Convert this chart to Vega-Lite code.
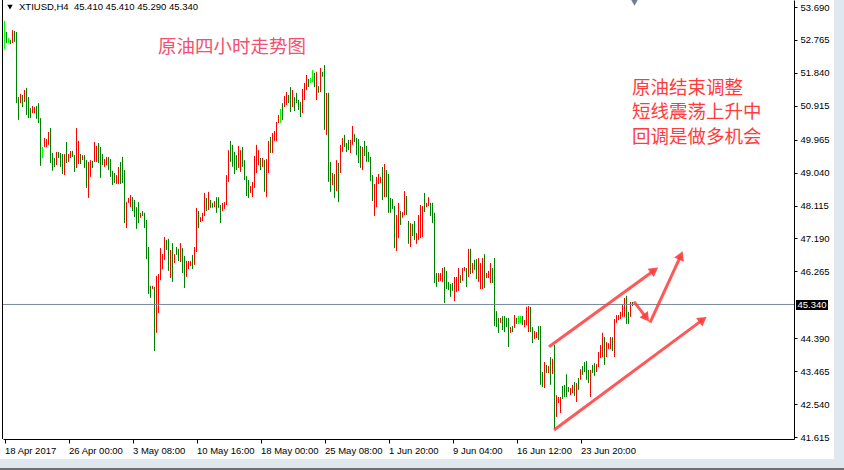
{
"$schema":"https://vega.github.io/schema/vega-lite/v6.json",
"width":791,"height":439,
"autosize":{"type":"none"},
"padding":{"left":3,"top":0,"right":50,"bottom":31},
"background":"white",
"config":{"view":{"stroke":null},"axis":{"grid":false}},
"datasets":{
"one":[{}],
"bars":[
{"i":0,"h":53.30,"l":52.51,"d":"n"},{"i":1,"h":52.99,"l":52.68,"d":"d"},{"i":2,"h":52.82,"l":52.68,"d":"n"},{"i":3,"h":52.76,"l":52.65,"d":"d"},{"i":4,"h":53.04,"l":52.68,"d":"u"},{"i":5,"h":53.02,"l":52.71,"d":"d"},{"i":6,"h":52.99,"l":50.99,"d":"d"},{"i":7,"h":51.16,"l":50.52,"d":"d"},{"i":8,"h":51.25,"l":50.99,"d":"u"},{"i":9,"h":51.22,"l":50.88,"d":"d"},
{"i":10,"h":51.36,"l":51.02,"d":"u"},{"i":11,"h":51.42,"l":50.66,"d":"d"},{"i":12,"h":51.16,"l":50.57,"d":"d"},{"i":13,"h":50.85,"l":50.57,"d":"d"},{"i":14,"h":50.91,"l":50.71,"d":"u"},{"i":15,"h":50.88,"l":50.71,"d":"u"},{"i":16,"h":50.91,"l":50.55,"d":"d"},{"i":17,"h":50.99,"l":50.43,"d":"d"},{"i":18,"h":50.57,"l":49.23,"d":"d"},{"i":19,"h":49.76,"l":49.45,"d":"n"},
{"i":20,"h":50.01,"l":49.76,"d":"u"},{"i":21,"h":49.98,"l":49.76,"d":"u"},{"i":22,"h":50.18,"l":49.82,"d":"u"},{"i":23,"h":50.29,"l":49.31,"d":"d"},{"i":24,"h":49.59,"l":49.09,"d":"d"},{"i":25,"h":49.45,"l":49.20,"d":"d"},{"i":26,"h":49.62,"l":49.25,"d":"u"},{"i":27,"h":49.62,"l":49.45,"d":"d"},{"i":28,"h":49.59,"l":49.20,"d":"d"},{"i":29,"h":49.56,"l":49.00,"d":"d"},
{"i":30,"h":49.56,"l":48.97,"d":"u"},{"i":31,"h":49.90,"l":49.31,"d":"d"},{"i":32,"h":49.56,"l":49.34,"d":"u"},{"i":33,"h":49.65,"l":49.45,"d":"u"},{"i":34,"h":49.65,"l":49.48,"d":"d"},{"i":35,"h":49.53,"l":49.06,"d":"d"},{"i":36,"h":50.29,"l":49.17,"d":"u"},{"i":37,"h":49.93,"l":49.28,"d":"u"},{"i":38,"h":49.56,"l":49.28,"d":"d"},{"i":39,"h":49.53,"l":49.39,"d":"u"},
{"i":40,"h":49.53,"l":49.17,"d":"d"},{"i":41,"h":49.39,"l":48.61,"d":"d"},{"i":42,"h":49.34,"l":48.33,"d":"u"},{"i":43,"h":49.39,"l":48.92,"d":"u"},{"i":44,"h":49.37,"l":49.17,"d":"d"},{"i":45,"h":49.90,"l":49.34,"d":"u"},{"i":46,"h":49.79,"l":49.34,"d":"u"},{"i":47,"h":49.87,"l":49.31,"d":"d"},{"i":48,"h":49.76,"l":48.89,"d":"d"},{"i":49,"h":49.56,"l":49.25,"d":"d"},
{"i":50,"h":49.42,"l":49.20,"d":"u"},{"i":51,"h":49.48,"l":49.25,"d":"u"},{"i":52,"h":49.48,"l":49.11,"d":"d"},{"i":53,"h":49.42,"l":48.92,"d":"d"},{"i":54,"h":49.09,"l":48.69,"d":"d"},{"i":55,"h":49.03,"l":48.75,"d":"d"},{"i":56,"h":48.97,"l":48.72,"d":"u"},{"i":57,"h":49.20,"l":48.72,"d":"u"},{"i":58,"h":49.34,"l":48.72,"d":"d"},{"i":59,"h":49.48,"l":48.75,"d":"d"},
{"i":60,"h":49.11,"l":47.62,"d":"d"},{"i":61,"h":48.21,"l":47.48,"d":"u"},{"i":62,"h":48.33,"l":48.19,"d":"u"},{"i":63,"h":48.41,"l":48.07,"d":"u"},{"i":64,"h":48.35,"l":47.96,"d":"d"},{"i":65,"h":48.27,"l":47.79,"d":"d"},{"i":66,"h":48.07,"l":47.46,"d":"d"},{"i":67,"h":48.21,"l":47.62,"d":"d"},{"i":68,"h":47.91,"l":47.77,"d":"u"},{"i":69,"h":47.96,"l":47.82,"d":"d"},
{"i":70,"h":47.91,"l":47.48,"d":"d"},{"i":71,"h":47.71,"l":46.61,"d":"d"},{"i":72,"h":46.95,"l":45.63,"d":"d"},{"i":73,"h":45.86,"l":45.52,"d":"d"},{"i":74,"h":45.86,"l":45.77,"d":"u"},{"i":75,"h":45.83,"l":44.03,"d":"d"},{"i":76,"h":46.14,"l":44.54,"d":"u"},{"i":77,"h":46.19,"l":45.10,"d":"u"},{"i":78,"h":46.92,"l":46.02,"d":"u"},{"i":79,"h":46.75,"l":46.33,"d":"u"},
{"i":80,"h":47.23,"l":46.59,"d":"u"},{"i":81,"h":47.15,"l":46.87,"d":"d"},{"i":82,"h":47.18,"l":46.28,"d":"d"},{"i":83,"h":46.87,"l":46.08,"d":"u"},{"i":84,"h":47.06,"l":45.97,"d":"d"},{"i":85,"h":46.75,"l":46.50,"d":"u"},{"i":86,"h":46.95,"l":46.73,"d":"d"},{"i":87,"h":46.90,"l":46.56,"d":"d"},{"i":88,"h":47.06,"l":46.53,"d":"u"},{"i":89,"h":46.92,"l":46.22,"d":"d"},
{"i":90,"h":46.70,"l":45.80,"d":"d"},{"i":91,"h":46.56,"l":46.11,"d":"u"},{"i":92,"h":46.56,"l":46.33,"d":"u"},{"i":93,"h":46.56,"l":46.42,"d":"u"},{"i":94,"h":46.73,"l":46.33,"d":"d"},{"i":95,"h":46.95,"l":46.45,"d":"u"},{"i":96,"h":48.05,"l":46.81,"d":"u"},{"i":97,"h":47.96,"l":47.48,"d":"d"},{"i":98,"h":47.79,"l":47.65,"d":"u"},{"i":99,"h":47.91,"l":47.68,"d":"u"},
{"i":100,"h":48.47,"l":47.82,"d":"u"},{"i":101,"h":48.33,"l":47.96,"d":"d"},{"i":102,"h":48.50,"l":47.99,"d":"u"},{"i":103,"h":48.27,"l":48.05,"d":"d"},{"i":104,"h":48.19,"l":48.05,"d":"d"},{"i":105,"h":48.24,"l":48.07,"d":"u"},{"i":106,"h":48.35,"l":47.91,"d":"d"},{"i":107,"h":48.35,"l":48.05,"d":"d"},{"i":108,"h":48.13,"l":47.62,"d":"d"},{"i":109,"h":48.19,"l":47.96,"d":"u"},
{"i":110,"h":48.21,"l":48.02,"d":"u"},{"i":111,"h":48.97,"l":48.13,"d":"u"},{"i":112,"h":49.67,"l":48.78,"d":"u"},{"i":113,"h":49.93,"l":49.34,"d":"d"},{"i":114,"h":49.82,"l":49.20,"d":"d"},{"i":115,"h":49.62,"l":49.00,"d":"d"},{"i":116,"h":49.53,"l":49.11,"d":"d"},{"i":117,"h":49.79,"l":49.17,"d":"u"},{"i":118,"h":49.67,"l":49.06,"d":"u"},{"i":119,"h":49.76,"l":49.20,"d":"d"},
{"i":120,"h":49.39,"l":48.83,"d":"d"},{"i":121,"h":48.94,"l":48.38,"d":"d"},{"i":122,"h":48.83,"l":48.33,"d":"d"},{"i":123,"h":48.66,"l":48.47,"d":"u"},{"i":124,"h":48.78,"l":48.35,"d":"u"},{"i":125,"h":49.51,"l":48.61,"d":"u"},{"i":126,"h":49.82,"l":49.03,"d":"u"},{"i":127,"h":49.67,"l":49.25,"d":"u"},{"i":128,"h":49.45,"l":49.11,"d":"d"},{"i":129,"h":49.45,"l":49.20,"d":"u"},
{"i":130,"h":49.39,"l":48.50,"d":"d"},{"i":131,"h":49.42,"l":48.35,"d":"u"},{"i":132,"h":49.93,"l":49.03,"d":"u"},{"i":133,"h":50.04,"l":49.59,"d":"d"},{"i":134,"h":50.15,"l":49.59,"d":"u"},{"i":135,"h":50.21,"l":49.93,"d":"u"},{"i":136,"h":50.46,"l":49.93,"d":"u"},{"i":137,"h":50.66,"l":50.43,"d":"u"},{"i":138,"h":50.83,"l":50.43,"d":"n"},{"i":139,"h":50.99,"l":50.52,"d":"d"},
{"i":140,"h":51.19,"l":50.88,"d":"u"},{"i":141,"h":51.30,"l":50.94,"d":"u"},{"i":142,"h":51.22,"l":50.99,"d":"d"},{"i":143,"h":51.44,"l":50.74,"d":"d"},{"i":144,"h":51.36,"l":50.88,"d":"u"},{"i":145,"h":51.16,"l":50.77,"d":"d"},{"i":146,"h":51.28,"l":50.99,"d":"d"},{"i":147,"h":51.08,"l":50.80,"d":"d"},{"i":148,"h":51.02,"l":50.60,"d":"d"},{"i":149,"h":51.39,"l":50.71,"d":"u"},
{"i":150,"h":51.56,"l":51.08,"d":"u"},{"i":151,"h":51.78,"l":51.36,"d":"u"},{"i":152,"h":51.67,"l":51.44,"d":"d"},{"i":153,"h":51.70,"l":51.56,"d":"n"},{"i":154,"h":51.92,"l":51.58,"d":"n"},{"i":155,"h":51.84,"l":51.44,"d":"d"},{"i":156,"h":51.87,"l":51.08,"d":"u"},{"i":157,"h":51.47,"l":51.28,"d":"d"},{"i":158,"h":51.98,"l":51.30,"d":"u"},{"i":159,"h":51.87,"l":51.73,"d":"d"},
{"i":160,"h":52.06,"l":50.24,"d":"d"},{"i":161,"h":51.28,"l":50.10,"d":"u"},{"i":162,"h":51.28,"l":48.78,"d":"d"},{"i":163,"h":49.34,"l":48.50,"d":"d"},{"i":164,"h":49.03,"l":48.69,"d":"u"},{"i":165,"h":49.00,"l":48.33,"d":"d"},{"i":166,"h":49.39,"l":48.52,"d":"u"},{"i":167,"h":49.31,"l":48.21,"d":"d"},{"i":168,"h":49.82,"l":49.03,"d":"u"},{"i":169,"h":50.01,"l":49.62,"d":"u"},
{"i":170,"h":50.10,"l":49.76,"d":"d"},{"i":171,"h":49.87,"l":49.62,"d":"d"},{"i":172,"h":49.96,"l":49.67,"d":"d"},{"i":173,"h":49.96,"l":49.59,"d":"u"},{"i":174,"h":50.35,"l":49.82,"d":"u"},{"i":175,"h":50.12,"l":49.90,"d":"d"},{"i":176,"h":50.01,"l":49.53,"d":"d"},{"i":177,"h":49.98,"l":49.31,"d":"d"},{"i":178,"h":49.79,"l":49.17,"d":"d"},{"i":179,"h":49.76,"l":49.11,"d":"u"},
{"i":180,"h":49.93,"l":49.51,"d":"d"},{"i":181,"h":49.79,"l":49.34,"d":"d"},{"i":182,"h":49.62,"l":49.34,"d":"d"},{"i":183,"h":49.48,"l":48.80,"d":"d"},{"i":184,"h":48.97,"l":48.24,"d":"d"},{"i":185,"h":48.72,"l":47.82,"d":"u"},{"i":186,"h":48.92,"l":48.07,"d":"u"},{"i":187,"h":49.00,"l":48.72,"d":"u"},{"i":188,"h":48.92,"l":48.75,"d":"u"},{"i":189,"h":49.20,"l":48.27,"d":"d"},
{"i":190,"h":49.28,"l":48.35,"d":"u"},{"i":191,"h":49.11,"l":48.35,"d":"d"},{"i":192,"h":49.00,"l":47.91,"d":"d"},{"i":193,"h":48.33,"l":47.91,"d":"d"},{"i":194,"h":48.30,"l":48.02,"d":"d"},{"i":195,"h":48.10,"l":46.92,"d":"d"},{"i":196,"h":47.85,"l":46.84,"d":"u"},{"i":197,"h":48.19,"l":47.20,"d":"u"},{"i":198,"h":47.96,"l":47.57,"d":"d"},{"i":199,"h":47.93,"l":47.77,"d":"u"},
{"i":200,"h":48.52,"l":47.85,"d":"u"},{"i":201,"h":48.38,"l":47.85,"d":"d"},{"i":202,"h":47.68,"l":47.04,"d":"d"},{"i":203,"h":47.62,"l":46.95,"d":"u"},{"i":204,"h":47.60,"l":47.26,"d":"d"},{"i":205,"h":47.68,"l":47.15,"d":"d"},{"i":206,"h":47.34,"l":47.04,"d":"u"},{"i":207,"h":47.85,"l":47.15,"d":"u"},{"i":208,"h":48.13,"l":47.20,"d":"u"},{"i":209,"h":48.10,"l":47.23,"d":"u"},
{"i":210,"h":48.47,"l":47.93,"d":"d"},{"i":211,"h":48.19,"l":48.07,"d":"u"},{"i":212,"h":48.35,"l":48.10,"d":"u"},{"i":213,"h":48.19,"l":47.82,"d":"d"},{"i":214,"h":48.19,"l":47.62,"d":"d"},{"i":215,"h":47.91,"l":45.94,"d":"d"},{"i":216,"h":46.22,"l":45.83,"d":"d"},{"i":217,"h":46.22,"l":45.97,"d":"u"},{"i":218,"h":46.22,"l":46.00,"d":"u"},{"i":219,"h":46.36,"l":45.97,"d":"u"},
{"i":220,"h":46.39,"l":45.38,"d":"d"},{"i":221,"h":46.28,"l":45.77,"d":"d"},{"i":222,"h":45.97,"l":45.74,"d":"d"},{"i":223,"h":45.91,"l":45.55,"d":"d"},{"i":224,"h":45.94,"l":45.72,"d":"d"},{"i":225,"h":46.11,"l":45.43,"d":"u"},{"i":226,"h":46.11,"l":45.69,"d":"u"},{"i":227,"h":46.36,"l":45.72,"d":"u"},{"i":228,"h":46.16,"l":45.94,"d":"d"},{"i":229,"h":46.36,"l":46.00,"d":"u"},
{"i":230,"h":46.39,"l":46.28,"d":"u"},{"i":231,"h":46.36,"l":45.83,"d":"d"},{"i":232,"h":46.90,"l":46.11,"d":"u"},{"i":233,"h":46.90,"l":46.19,"d":"d"},{"i":234,"h":46.50,"l":46.22,"d":"u"},{"i":235,"h":46.59,"l":46.31,"d":"d"},{"i":236,"h":46.61,"l":46.05,"d":"d"},{"i":237,"h":46.64,"l":45.97,"d":"u"},{"i":238,"h":46.50,"l":45.77,"d":"u"},{"i":239,"h":46.64,"l":45.77,"d":"u"},
{"i":240,"h":46.75,"l":45.80,"d":"d"},{"i":241,"h":46.22,"l":46.08,"d":"u"},{"i":242,"h":46.28,"l":46.08,"d":"u"},{"i":243,"h":46.50,"l":45.94,"d":"u"},{"i":244,"h":46.36,"l":45.94,"d":"d"},{"i":245,"h":46.64,"l":44.73,"d":"d"},{"i":246,"h":45.15,"l":44.70,"d":"d"},{"i":247,"h":44.96,"l":44.54,"d":"d"},{"i":248,"h":44.96,"l":44.82,"d":"u"},{"i":249,"h":45.01,"l":44.62,"d":"d"},
{"i":250,"h":45.01,"l":44.56,"d":"d"},{"i":251,"h":44.96,"l":44.70,"d":"d"},{"i":252,"h":44.96,"l":44.14,"d":"d"},{"i":253,"h":44.70,"l":44.54,"d":"u"},{"i":254,"h":44.73,"l":44.56,"d":"d"},{"i":255,"h":45.04,"l":44.68,"d":"u"},{"i":256,"h":44.96,"l":44.79,"d":"d"},{"i":257,"h":45.01,"l":44.79,"d":"n"},{"i":258,"h":45.01,"l":44.82,"d":"n"},{"i":259,"h":45.01,"l":44.76,"d":"d"},
{"i":260,"h":44.90,"l":44.70,"d":"u"},{"i":261,"h":45.27,"l":44.76,"d":"u"},{"i":262,"h":45.29,"l":44.56,"d":"u"},{"i":263,"h":45.27,"l":44.56,"d":"d"},{"i":264,"h":44.70,"l":44.25,"d":"d"},{"i":265,"h":44.59,"l":44.36,"d":"u"},{"i":266,"h":44.56,"l":44.39,"d":"u"},{"i":267,"h":44.73,"l":44.34,"d":"d"},{"i":268,"h":44.73,"l":43.08,"d":"d"},{"i":269,"h":43.44,"l":43.02,"d":"d"},
{"i":270,"h":43.72,"l":42.99,"d":"u"},{"i":271,"h":43.64,"l":43.41,"d":"d"},{"i":272,"h":43.61,"l":43.41,"d":"u"},{"i":273,"h":43.86,"l":43.08,"d":"d"},{"i":274,"h":43.81,"l":43.38,"d":"u"},{"i":275,"h":44.20,"l":41.84,"d":"d"},{"i":276,"h":42.79,"l":42.18,"d":"u"},{"i":277,"h":42.74,"l":42.57,"d":"u"},{"i":278,"h":42.74,"l":42.29,"d":"u"},{"i":279,"h":43.05,"l":42.68,"d":"d"},
{"i":280,"h":43.08,"l":42.74,"d":"d"},{"i":281,"h":43.38,"l":42.74,"d":"d"},{"i":282,"h":43.02,"l":42.88,"d":"d"},{"i":283,"h":42.99,"l":42.79,"d":"u"},{"i":284,"h":43.08,"l":42.85,"d":"u"},{"i":285,"h":43.16,"l":42.77,"d":"d"},{"i":286,"h":43.13,"l":42.60,"d":"u"},{"i":287,"h":43.27,"l":42.94,"d":"d"},{"i":288,"h":43.52,"l":43.22,"d":"u"},{"i":289,"h":43.61,"l":43.36,"d":"d"},
{"i":290,"h":43.72,"l":43.44,"d":"d"},{"i":291,"h":43.75,"l":43.22,"d":"d"},{"i":292,"h":43.50,"l":43.13,"d":"d"},{"i":293,"h":43.50,"l":42.74,"d":"u"},{"i":294,"h":43.64,"l":43.41,"d":"d"},{"i":295,"h":43.69,"l":43.33,"d":"d"},{"i":296,"h":43.66,"l":43.44,"d":"u"},{"i":297,"h":44.00,"l":43.58,"d":"u"},{"i":298,"h":44.20,"l":43.83,"d":"u"},{"i":299,"h":44.54,"l":43.86,"d":"u"},
{"i":300,"h":44.42,"l":43.64,"d":"d"},{"i":301,"h":44.28,"l":43.86,"d":"u"},{"i":302,"h":44.25,"l":44.09,"d":"u"},{"i":303,"h":44.42,"l":44.09,"d":"u"},{"i":304,"h":44.42,"l":44.03,"d":"d"},{"i":305,"h":44.93,"l":43.86,"d":"u"},{"i":306,"h":45.04,"l":44.82,"d":"u"},{"i":307,"h":45.04,"l":44.90,"d":"u"},{"i":308,"h":45.13,"l":44.93,"d":"u"},{"i":309,"h":45.35,"l":44.99,"d":"u"},
{"i":310,"h":45.52,"l":44.99,"d":"u"},{"i":311,"h":45.58,"l":44.79,"d":"d"},{"i":312,"h":45.13,"l":44.79,"d":"d"},{"i":313,"h":45.41,"l":44.99,"d":"u"},{"i":314,"h":45.41,"l":45.29,"d":"d"}
],
"arrows":[
{"x":272.25,"y":44.151,"x2":324.95,"y2":46.299,"a":54},
{"x":274.75,"y":41.812,"x2":349.2,"y2":44.912,"a":53.4},
{"x":314.75,"y":45.415,"x2":320.95,"y2":44.96,"a":142.7},
{"x":322.75,"y":44.825,"x2":338.15,"y2":46.712,"a":24}
],
"notes":[
{"t":"原油结束调整","x":313.75,"y":51.416},
{"t":"短线震荡上升中","x":313.75,"y":50.728},
{"t":"回调是做多机会","x":313.75,"y":50.026}
]
},
"resolve":{"axis":{"x":"independent","y":"independent"}},
"layer":[
{"data":{"name":"bars"},
 "mark":{"type":"rule","strokeWidth":1},
 "encoding":{
  "x":{"field":"i","type":"quantitative","scale":{"domain":[-0.75,394.75],"nice":false,"zero":false},
   "axis":{"orient":"bottom","values":[0,32,64,96,128,160,192,224,256,288],
    "labelExpr":"datum.value == 0 ? '18 Apr 2017' : datum.value == 32 ? '26 Apr 00:00' : datum.value == 64 ? '3 May 08:00' : datum.value == 96 ? '10 May 16:00' : datum.value == 128 ? '18 May 00:00' : datum.value == 160 ? '25 May 08:00' : datum.value == 192 ? '1 Jun 20:00' : datum.value == 224 ? '9 Jun 04:00' : datum.value == 256 ? '16 Jun 12:00' : '23 Jun 20:00'",
    "labelAlign":"left","labelBaseline":"top","labelPadding":2,"tickSize":4,"tickColor":"#000","domainColor":"#000",
    "labelFont":"Liberation Sans","labelFontSize":9.5,"labelColor":"#000","title":null,"labelOverlap":false,"labelFlush":false,"grid":false}},
  "y":{"field":"h","type":"quantitative","scale":{"domain":[41.559,53.887],"nice":false,"zero":false},
   "axis":{"orient":"right","values":[53.69,52.765,51.84,50.915,49.965,49.04,48.115,47.19,46.265,44.39,43.465,42.54,41.615],
    "format":".3f","tickSize":3,"tickColor":"#000","domainColor":"#000","labelFont":"Liberation Sans","labelFontSize":9.5,
    "labelColor":"#000","labelPadding":3,"title":null,"labelOverlap":false,"labelFlush":false,"labelBound":false,"grid":false}},
  "y2":{"field":"l"},
  "color":{"field":"d","type":"nominal","scale":{"domain":["u","d","n"],"range":["#ff0000","#008000","#00ff00"]},"legend":null}
 }},
{"data":{"name":"one"},
 "mark":{"type":"rule","color":"#000000","strokeWidth":1},
 "encoding":{"x":{"datum":-1.0,"type":"quantitative","scale":{"domain":[-0.75,394.75],"nice":false,"zero":false},"axis":null}}},
{"data":{"name":"one"},
 "mark":{"type":"rect","color":"#dfe7ef"},
 "encoding":{"x":{"datum":-2.25,"type":"quantitative","scale":{"domain":[-0.75,394.75],"nice":false,"zero":false},"axis":null},"x2":{"datum":419.75},
 "y":{"datum":40.997,"type":"quantitative","scale":{"domain":[41.559,53.887],"nice":false,"zero":false},"axis":null},"y2":{"datum":40.688}}},
{"data":{"name":"one"},
 "mark":{"type":"rect","color":"#dfe7ef"},
 "encoding":{"x":{"datum":414.75,"type":"quantitative","scale":{"domain":[-0.75,394.75],"nice":false,"zero":false},"axis":null},"x2":{"datum":419.75},
 "y":{"datum":53.887,"type":"quantitative","scale":{"domain":[41.559,53.887],"nice":false,"zero":false},"axis":null},"y2":{"datum":40.688}}},
{"data":{"name":"one"},
 "mark":{"type":"rect","color":"#6e6e6e"},
 "encoding":{"x":{"datum":-2.25,"type":"quantitative","scale":{"domain":[-0.75,394.75],"nice":false,"zero":false},"axis":null},"x2":{"datum":419.75},
 "y":{"datum":40.745,"type":"quantitative","scale":{"domain":[41.559,53.887],"nice":false,"zero":false},"axis":null},"y2":{"datum":40.688}}},
{"data":{"name":"one"},
 "mark":{"type":"rule","color":"#778899","strokeWidth":1},
 "encoding":{"y":{"datum":45.337,"type":"quantitative","scale":{"domain":[41.559,53.887],"nice":false,"zero":false},"axis":null}}},
{"data":{"name":"one"},
 "mark":{"type":"rect","color":"#000000"},
 "encoding":{"x":{"datum":395.75,"type":"quantitative","scale":{"domain":[-0.75,394.75],"nice":false,"zero":false},"axis":null},"x2":{"datum":411.75},
 "y":{"datum":45.462,"type":"quantitative","scale":{"domain":[41.559,53.887],"nice":false,"zero":false},"axis":null},"y2":{"datum":45.182}}},
{"data":{"name":"one"},
 "mark":{"type":"text","text":"45.340","color":"#ffffff","font":"Liberation Sans","fontSize":9.5,"align":"center","baseline":"middle"},
 "encoding":{"x":{"datum":403.75,"type":"quantitative","scale":{"domain":[-0.75,394.75],"nice":false,"zero":false},"axis":null},
 "y":{"datum":45.32,"type":"quantitative","scale":{"domain":[41.559,53.887],"nice":false,"zero":false},"axis":null}}},
{"data":{"name":"arrows"},
 "mark":{"type":"rule","color":"#ff3b3b","strokeWidth":3,"opacity":0.85},
 "encoding":{"x":{"field":"x","type":"quantitative","scale":{"domain":[-0.75,394.75],"nice":false,"zero":false},"axis":null},"x2":{"field":"x2"},
 "y":{"field":"y","type":"quantitative","scale":{"domain":[41.559,53.887],"nice":false,"zero":false},"axis":null},"y2":{"field":"y2"}}},
{"data":{"name":"arrows"},
 "mark":{"type":"point","shape":"triangle-up","filled":true,"color":"#ff3b3b","opacity":0.9,"size":110},
 "encoding":{"x":{"field":"x2","type":"quantitative","scale":{"domain":[-0.75,394.75],"nice":false,"zero":false},"axis":null},
 "y":{"field":"y2","type":"quantitative","scale":{"domain":[41.559,53.887],"nice":false,"zero":false},"axis":null},
 "angle":{"field":"a","type":"quantitative","scale":null}}},
{"data":{"name":"one"},
 "mark":{"type":"point","shape":"triangle-down","filled":true,"color":"#000000","opacity":1,"size":30},
 "encoding":{"x":{"datum":2.75,"type":"quantitative","scale":{"domain":[-0.75,394.75],"nice":false,"zero":false},"axis":null},
 "y":{"datum":53.69,"type":"quantitative","scale":{"domain":[41.559,53.887],"nice":false,"zero":false},"axis":null}}},
{"data":{"name":"one"},
 "mark":{"type":"point","shape":"triangle-down","filled":true,"color":"#708090","opacity":1,"size":70},
 "encoding":{"x":{"datum":315,"type":"quantitative","scale":{"domain":[-0.75,394.75],"nice":false,"zero":false},"axis":null},
 "y":{"datum":53.83,"type":"quantitative","scale":{"domain":[41.559,53.887],"nice":false,"zero":false},"axis":null}}},
{"data":{"name":"one"},
 "mark":{"type":"text","text":"XTIUSD,H4\u00a0 45.410 45.410 45.290 45.340","color":"#000000","font":"Liberation Sans","fontSize":9.5,"align":"left","baseline":"middle"},
 "encoding":{"x":{"datum":7.25,"type":"quantitative","scale":{"domain":[-0.75,394.75],"nice":false,"zero":false},"axis":null},
 "y":{"datum":53.682,"type":"quantitative","scale":{"domain":[41.559,53.887],"nice":false,"zero":false},"axis":null}}},
{"data":{"name":"one"},
 "mark":{"type":"text","text":"原油四小时走势图","color":"#f2506e","font":"Noto Sans CJK SC","fontSize":18.5,"align":"left","baseline":"middle"},
 "encoding":{"x":{"datum":76.75,"type":"quantitative","scale":{"domain":[-0.75,394.75],"nice":false,"zero":false},"axis":null},
 "y":{"datum":52.567,"type":"quantitative","scale":{"domain":[41.559,53.887],"nice":false,"zero":false},"axis":null}}},
{"data":{"name":"notes"},
 "mark":{"type":"text","color":"#ff3c3c","font":"Noto Sans CJK SC","fontSize":18.5,"align":"left","baseline":"middle"},
 "encoding":{"x":{"field":"x","type":"quantitative","scale":{"domain":[-0.75,394.75],"nice":false,"zero":false},"axis":null},
 "y":{"field":"y","type":"quantitative","scale":{"domain":[41.559,53.887],"nice":false,"zero":false},"axis":null},
 "text":{"field":"t"}}}
]
}
